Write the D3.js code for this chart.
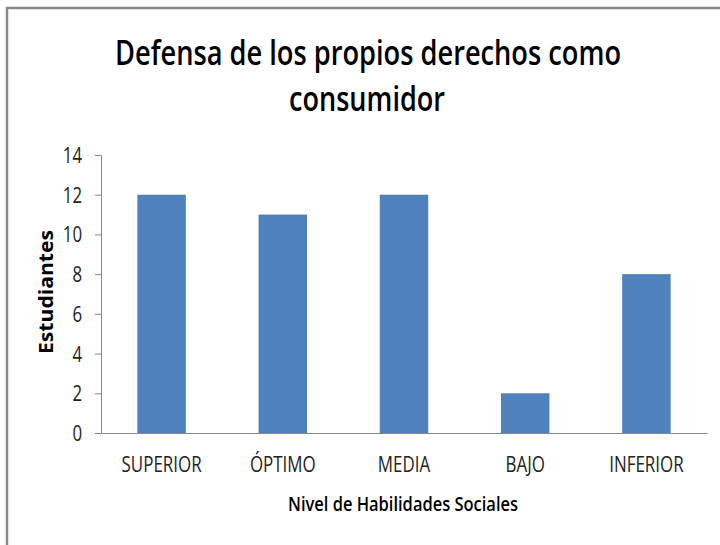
<!DOCTYPE html>
<html>
<head>
<meta charset="utf-8">
<script src="https://cdn.jsdelivr.net/npm/d3@7"></script>
<style>
  body { margin: 0; background: #fff; }
  text { font-family: "Open Sans", sans-serif; fill: #000; }
</style>
</head>
<body>
<div id="chart"></div>
<script>
const categories = ['SUPERIOR', 'ÓPTIMO', 'MEDIA', 'BAJO', 'INFERIOR'];
const values = [12, 11, 12, 2, 8];
const yTicks = [0, 2, 4, 6, 8, 10, 12, 14];
const titleLines = ['Defensa de los propios derechos como', 'consumidor'];

const width = 720;
const height = 545;

const svg = d3.select('#chart')
  .append('svg')
  .attr('width', width)
  .attr('height', height);

// outer frame (only top and left edges visible)
svg.append('rect')
  .attr('x', 7)
  .attr('y', 8)
  .attr('width', 760)
  .attr('height', 600)
  .attr('fill', 'none')
  .attr('stroke', '#8a8a8a')
  .attr('stroke-width', 2.5);

const x = d3.scaleBand()
  .domain(categories)
  .range([101, 707])
  .paddingInner(0.6)
  .paddingOuter(0.3);

const y = d3.scaleLinear()
  .domain([0, 14])
  .range([433, 155]);

// squeeze a text to a target width (the source font is narrow)
function fit(sel, w) {
  sel.attr('textLength', w).attr('lengthAdjust', 'spacingAndGlyphs');
}

// title: stretched vertically a bit, like the source image
svg.append('text')
  .attr('transform', 'translate(368,65) scale(1,1.2)')
  .attr('text-anchor', 'middle')
  .attr('font-size', 28)
  .attr('font-weight', 600)
  .text(titleLines[0])
  .call(fit, 506);

svg.append('text')
  .attr('transform', 'translate(367,111) scale(1,1.2)')
  .attr('text-anchor', 'middle')
  .attr('font-size', 28)
  .attr('font-weight', 600)
  .text(titleLines[1])
  .call(fit, 156);

const yAxis = d3.axisLeft(y)
  .tickValues(yTicks)
  .tickSizeInner(6)
  .tickSizeOuter(0)
  .tickPadding(13);

const yG = svg.append('g')
  .attr('transform', 'translate(101,0)')
  .call(yAxis);

yG.selectAll('line, path').attr('stroke', '#868686');
yG.selectAll('text')
  .attr('font-size', 21)
  .attr('dy', '0.36em')
  .style('font-family', '"Open Sans", sans-serif')
  .style('fill', '#222')
  .each(function () {
    const w = this.getComputedTextLength();
    d3.select(this).call(fit, w * 0.8);
  });

svg.selectAll('.bar')
  .data(values)
  .enter()
  .append('rect')
  .attr('class', 'bar')
  .attr('x', (d, i) => x(categories[i]))
  .attr('width', x.bandwidth())
  .attr('y', d => y(d))
  .attr('height', d => y(0) - y(d))
  .attr('fill', '#4f81bd');

const xAxis = d3.axisBottom(x)
  .tickSize(0)
  .tickSizeOuter(0)
  .tickPadding(23);

const xG = svg.append('g')
  .attr('transform', `translate(0,${y(0)})`)
  .call(xAxis);

xG.select('.domain').attr('stroke', '#868686').attr('stroke-width', 1.2);
xG.selectAll('text')
  .attr('font-size', 22)
  .style('font-family', '"Open Sans", sans-serif')
  .style('fill', '#222')
  .each(function () {
    const w = this.getComputedTextLength();
    d3.select(this).call(fit, w * 0.77);
  });

svg.append('text')
  .attr('x', 403)
  .attr('y', 511)
  .attr('text-anchor', 'middle')
  .attr('font-size', 20)
  .attr('font-weight', 600)
  .text('Nivel de Habilidades Sociales')
  .call(fit, 230);

svg.append('text')
  .attr('transform', 'translate(53,292) rotate(-90)')
  .attr('text-anchor', 'middle')
  .attr('font-size', 20)
  .attr('font-weight', 700)
  .text('Estudiantes')
  .call(fit, 124);
</script>
</body>
</html>
